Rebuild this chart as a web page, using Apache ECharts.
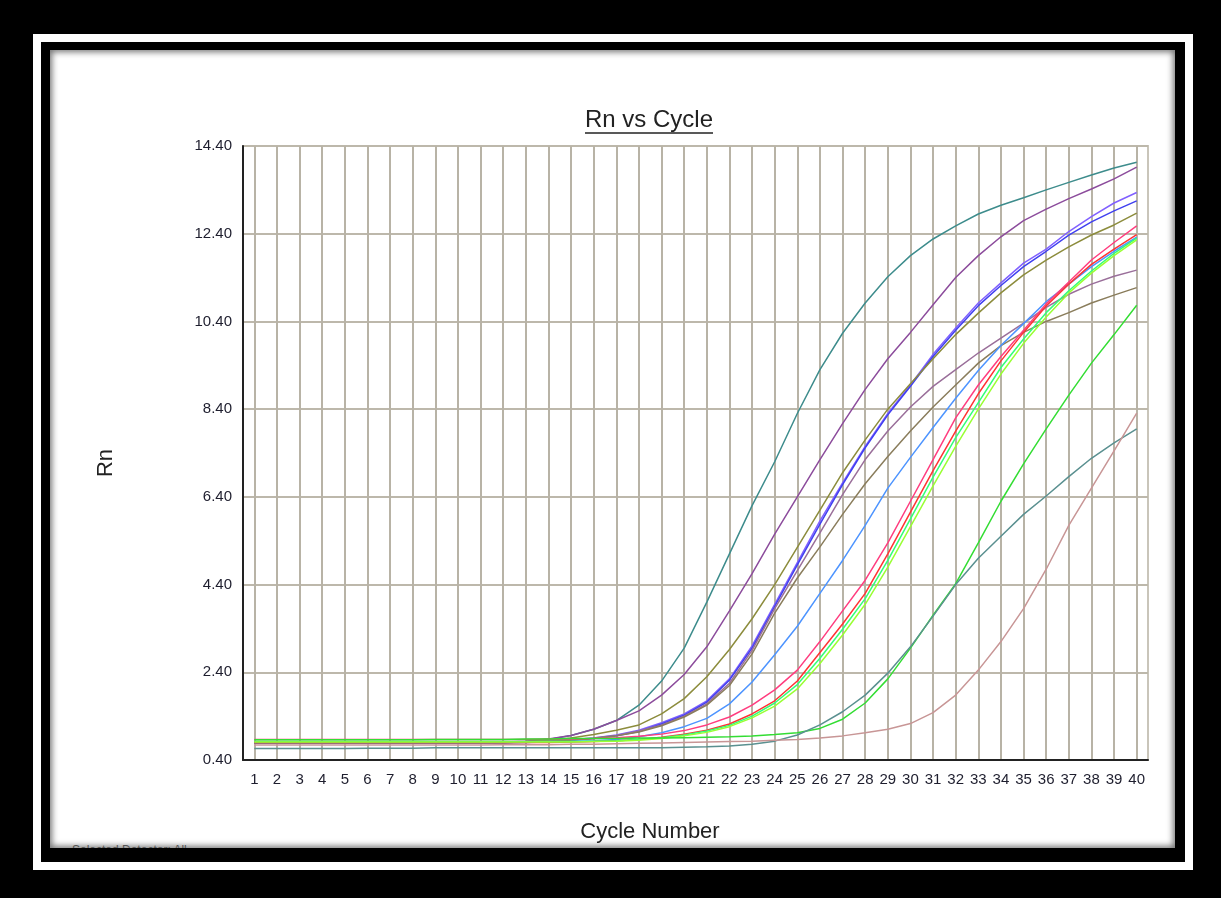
<!DOCTYPE html>
<html>
<head>
<meta charset="utf-8">
<title>Rn vs Cycle</title>
<script src="https://cdn.jsdelivr.net/npm/echarts@6/dist/echarts.min.js"></script>
<style>
  html, body { margin: 0; padding: 0; background: #000; width: 1221px; height: 898px; overflow: hidden; }
  #frame { position: absolute; left: 33px; top: 34px; width: 1160px; height: 836px; border: 8px solid #fff; box-sizing: border-box; background: #000; }
  #paper { position: absolute; left: 50px; top: 50px; width: 1125px; height: 798px; background: #fff; overflow: hidden;
           box-shadow: inset 0 0 6px 2px rgba(0, 0, 0, 0.55); }
  #footer { position: absolute; left: 22px; bottom: -9px; font: 12px "Liberation Sans", Arial, sans-serif; color: #555; }
  #chart { position: absolute; left: 0; top: 0; width: 1221px; height: 898px; }
</style>
</head>
<body>
<div id="frame"></div>
<div id="paper"><span id="footer">Selected Detector: All</span></div>
<div id="chart"></div>
<script>
// cycle numbers on the x axis
const cycles = ['1','2','3','4','5','6','7','8','9','10','11','12','13','14','15','16','17','18','19','20',
                '21','22','23','24','25','26','27','28','29','30','31','32','33','34','35','36','37','38','39','40'];

// Rn values per well (cycles 1..40)
const tealA = [0.78,0.78,0.78,0.78,0.78,0.78,0.78,0.78,0.79,0.79,0.79,0.80,0.82,0.87,0.96,1.10,1.30,1.65,2.20,2.95,
               4.00,5.10,6.20,7.20,8.30,9.30,10.13,10.82,11.42,11.90,12.28,12.58,12.85,13.05,13.22,13.40,13.57,13.74,13.90,14.03];
const purpleB = [0.80,0.80,0.80,0.80,0.80,0.80,0.80,0.80,0.80,0.80,0.81,0.81,0.83,0.88,0.96,1.10,1.30,1.52,1.88,2.35,
                 2.98,3.80,4.65,5.55,6.40,7.25,8.07,8.85,9.55,10.15,10.78,11.40,11.90,12.33,12.70,12.96,13.20,13.42,13.65,13.92];
const violetC = [0.80,0.80,0.80,0.80,0.80,0.80,0.80,0.80,0.80,0.80,0.80,0.80,0.81,0.83,0.86,0.90,0.97,1.08,1.25,1.45,
                 1.75,2.25,3.00,3.95,4.90,5.85,6.72,7.55,8.30,8.95,9.65,10.25,10.82,11.28,11.73,12.05,12.45,12.79,13.10,13.34];
const blueD = [0.80,0.80,0.80,0.80,0.80,0.80,0.80,0.80,0.80,0.80,0.80,0.80,0.81,0.82,0.85,0.89,0.95,1.05,1.22,1.42,
               1.72,2.22,2.95,3.90,4.85,5.78,6.68,7.52,8.27,8.92,9.60,10.20,10.76,11.22,11.65,12.00,12.37,12.67,12.92,13.15];
const oliveE = [0.80,0.80,0.80,0.80,0.80,0.80,0.80,0.80,0.80,0.80,0.80,0.81,0.82,0.85,0.90,0.98,1.08,1.20,1.45,1.80,
                2.30,2.92,3.62,4.40,5.25,6.10,6.95,7.70,8.40,8.98,9.55,10.10,10.59,11.05,11.46,11.80,12.10,12.37,12.60,12.87];
const mauveF = [0.80,0.80,0.80,0.80,0.80,0.80,0.80,0.80,0.80,0.80,0.80,0.80,0.81,0.83,0.86,0.90,0.96,1.06,1.20,1.40,
                1.68,2.15,2.90,3.85,4.72,5.58,6.45,7.25,7.90,8.45,8.92,9.30,9.68,10.02,10.36,10.72,11.02,11.25,11.43,11.57];
const khakiG = [0.79,0.79,0.79,0.79,0.79,0.79,0.79,0.79,0.79,0.79,0.79,0.79,0.80,0.82,0.85,0.89,0.95,1.04,1.18,1.38,
                1.65,2.10,2.82,3.75,4.55,5.26,6.00,6.70,7.32,7.90,8.45,8.95,9.45,9.85,10.15,10.40,10.60,10.82,11.00,11.17];
const skyH = [0.80,0.80,0.80,0.80,0.80,0.80,0.80,0.80,0.80,0.80,0.80,0.80,0.80,0.81,0.82,0.84,0.87,0.93,1.02,1.16,
              1.35,1.68,2.18,2.80,3.45,4.20,4.95,5.75,6.60,7.30,7.98,8.65,9.28,9.85,10.35,10.85,11.25,11.65,12.00,12.32];
const pinkI = [0.87,0.87,0.87,0.87,0.87,0.87,0.87,0.87,0.87,0.87,0.87,0.87,0.87,0.88,0.88,0.89,0.91,0.94,0.99,1.07,
               1.20,1.38,1.65,2.00,2.45,3.10,3.80,4.50,5.35,6.30,7.25,8.20,8.95,9.60,10.20,10.80,11.30,11.80,12.20,12.58];
const redJ = [0.80,0.80,0.80,0.80,0.80,0.80,0.80,0.80,0.80,0.80,0.80,0.80,0.80,0.80,0.81,0.82,0.84,0.87,0.92,0.99,
              1.08,1.22,1.45,1.75,2.20,2.85,3.50,4.20,5.10,6.05,7.00,7.90,8.75,9.50,10.15,10.75,11.25,11.70,12.05,12.38];
const greenK = [0.82,0.82,0.82,0.82,0.82,0.82,0.82,0.82,0.82,0.82,0.82,0.82,0.82,0.82,0.82,0.83,0.84,0.87,0.91,0.97,
                1.06,1.19,1.40,1.70,2.12,2.72,3.38,4.08,4.95,5.90,6.85,7.75,8.55,9.35,10.00,10.60,11.10,11.55,11.95,12.30];
const limeL = [0.81,0.81,0.81,0.81,0.81,0.81,0.81,0.81,0.81,0.81,0.81,0.81,0.81,0.81,0.81,0.82,0.83,0.85,0.89,0.95,
               1.03,1.16,1.36,1.63,2.02,2.60,3.25,3.95,4.80,5.72,6.65,7.55,8.40,9.20,9.90,10.50,11.05,11.50,11.90,12.26];
const greenN = [0.86,0.86,0.86,0.86,0.86,0.86,0.86,0.86,0.87,0.87,0.87,0.87,0.88,0.88,0.89,0.89,0.89,0.90,0.90,0.91,
                0.92,0.93,0.95,0.98,1.02,1.12,1.33,1.70,2.25,2.95,3.70,4.42,5.35,6.30,7.15,7.95,8.72,9.45,10.10,10.77];
const slateO = [0.66,0.66,0.66,0.66,0.66,0.67,0.67,0.67,0.68,0.68,0.68,0.68,0.68,0.68,0.68,0.68,0.68,0.68,0.68,0.69,
                0.70,0.72,0.76,0.83,0.97,1.20,1.50,1.88,2.38,2.98,3.68,4.40,5.00,5.50,6.00,6.42,6.86,7.28,7.63,7.95];
const roseP = [0.74,0.74,0.74,0.74,0.74,0.74,0.74,0.74,0.74,0.74,0.74,0.75,0.75,0.75,0.76,0.76,0.77,0.78,0.79,0.80,
               0.81,0.82,0.83,0.85,0.87,0.90,0.95,1.02,1.10,1.23,1.48,1.88,2.45,3.10,3.85,4.75,5.75,6.60,7.45,8.31];

const wells = [
  { name: 'A', color: '#3d8c8c', data: tealA },
  { name: 'B', color: '#8c4c9c', data: purpleB },
  { name: 'C', color: '#8060ff', data: violetC },
  { name: 'D', color: '#4040f0', data: blueD },
  { name: 'E', color: '#8c8c3c', data: oliveE },
  { name: 'F', color: '#9a6f9a', data: mauveF },
  { name: 'G', color: '#8a7d5c', data: khakiG },
  { name: 'H', color: '#4d94ff', data: skyH },
  { name: 'I', color: '#ff3d7f', data: pinkI },
  { name: 'J', color: '#ff3333', data: redJ },
  { name: 'K', color: '#33ff77', data: greenK },
  { name: 'L', color: '#99ff33', data: limeL },
  { name: 'N', color: '#33dd33', data: greenN },
  { name: 'O', color: '#5a9090', data: slateO },
  { name: 'P', color: '#c89696', data: roseP }
];

const font = '"Liberation Sans", Arial, sans-serif';
const textColor = '#1e1e2e';

const chart = echarts.init(document.getElementById('chart'), null, { renderer: 'canvas' });

chart.setOption({
  animation: false,
  backgroundColor: 'transparent',
  grid: {
    left: 243, top: 146, right: 73, bottom: 138,
    show: true, borderColor: '#c9c5ba', borderWidth: 2, backgroundColor: 'transparent'
  },
  xAxis: {
    type: 'category',
    data: cycles,
    boundaryGap: true,
    axisLine: { lineStyle: { color: '#222', width: 2 } },
    axisTick: { show: false },
    axisLabel: { interval: 0, color: textColor, fontSize: 15, fontFamily: font, margin: 12 },
    splitLine: { show: true, interval: 0, alignWithLabel: true, lineStyle: { color: '#b8b3a6', width: 2 } }
  },
  yAxis: {
    type: 'value',
    min: 0.4,
    max: 14.4,
    interval: 2,
    axisLine: { show: true, lineStyle: { color: '#222', width: 2 } },
    axisTick: { show: false },
    axisLabel: { color: textColor, fontSize: 15, fontFamily: font, margin: 11, formatter: v => v.toFixed(2) },
    splitLine: { show: true, lineStyle: { color: '#bdb8ab', width: 2 } }
  },
  series: wells.map(w => ({
    type: 'line',
    name: w.name,
    data: w.data,
    symbol: 'none',
    showSymbol: false,
    lineStyle: { width: 1.5, color: w.color },
    itemStyle: { color: w.color }
  })),
  graphic: [
    { type: 'text', x: 649, y: 120, style: { text: 'Rn vs Cycle', font: '24px ' + font, fill: '#222', textAlign: 'center', textVerticalAlign: 'middle' } },
    { type: 'line', shape: { x1: 585, y1: 133, x2: 713, y2: 133 }, style: { stroke: '#222', lineWidth: 1.5 } },
    { type: 'text', x: 106, y: 463, rotation: Math.PI / 2, style: { text: 'Rn', font: '22px ' + font, fill: '#222', textAlign: 'center', textVerticalAlign: 'middle' } },
    { type: 'text', x: 650, y: 832, style: { text: 'Cycle Number', font: '22px ' + font, fill: '#222', textAlign: 'center', textVerticalAlign: 'middle' } }
  ]
});
</script>
</body>
</html>
